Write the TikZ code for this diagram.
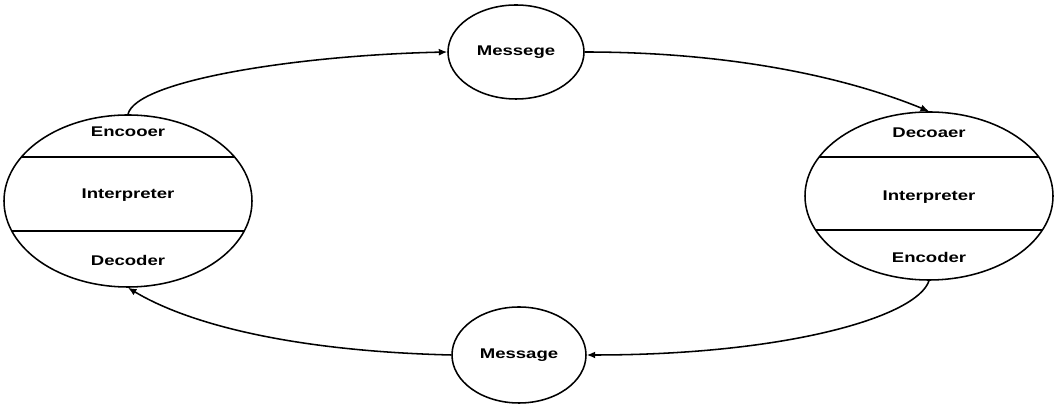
\documentclass[tikz,border=0pt]{standalone}
\usepackage{fontspec}
\setmainfont{Liberation Sans}[FakeStretch=1.32]
\usetikzlibrary{shapes.geometric,arrows.meta}
\begin{document}
\begin{tikzpicture}[
  line width=1.1pt,
  sistema/.style={draw, ellipse, inner sep=0pt, minimum width=6.2cm, minimum height=4.3cm},
  mensaje/.style={draw, ellipse, inner sep=0pt, minimum width=3.4cm, minimum height=2.35cm},
  capa/.style={font=\fontsize{10}{12}\selectfont\bfseries},
  flujo/.style={-{Latex[length=6pt,width=5pt]}}
]
\useasboundingbox (0,0) rectangle (26.375,10.225);
% Sistema izquierdo
\node[sistema] (izq) at (3.2,5.2) {};
\begin{scope}
\clip (3.2,5.2) ellipse (3.1 and 2.15);
\draw (0,6.3) -- (6.4,6.3);
\draw (0,4.45) -- (6.4,4.45);
\end{scope}
\node[capa] (izqenc) at (3.2,6.925) {Encooer};
\node[capa] (izqint) at (3.2,5.35) {Interpreter};
\node[capa] (izqdec) at (3.2,3.725) {Decoder};
% Sistema derecho
\node[sistema, minimum height=4.2cm] (der) at (23.225,5.325) {};
\begin{scope}
\clip (23.225,5.325) ellipse (3.1 and 2.1);
\draw (20,6.3) -- (26.4,6.3);
\draw (20,4.475) -- (26.4,4.475);
\end{scope}
\node[capa] (derdec) at (23.225,6.9) {Decoaer};
\node[capa] (derint) at (23.225,5.3) {Interpreter};
\node[capa] (derenc) at (23.225,3.8) {Encoder};
% Mensajes
\node[mensaje, capa] (arriba) at (12.9,8.925) {Messege};
\node[mensaje, capa, minimum width=3.35cm, minimum height=2.4cm] (abajo) at (12.975,1.35) {Message};
% Flechas
\draw[flujo] (izq.north) .. controls +(0.2,0.85) and +(-3.7,-0.08) .. (arriba.west);
\draw[flujo] (arriba.east) .. controls +(3.5,0) and +(-2.2,0.9) .. (der.north);
\draw[flujo] (der.south) .. controls +(-0.3,-0.9) and +(5,0) .. (abajo.east);
\draw[flujo] (abajo.west) .. controls +(-4,0.1) and +(1.5,-0.9) .. (izq.south);
\end{tikzpicture}
\end{document}
